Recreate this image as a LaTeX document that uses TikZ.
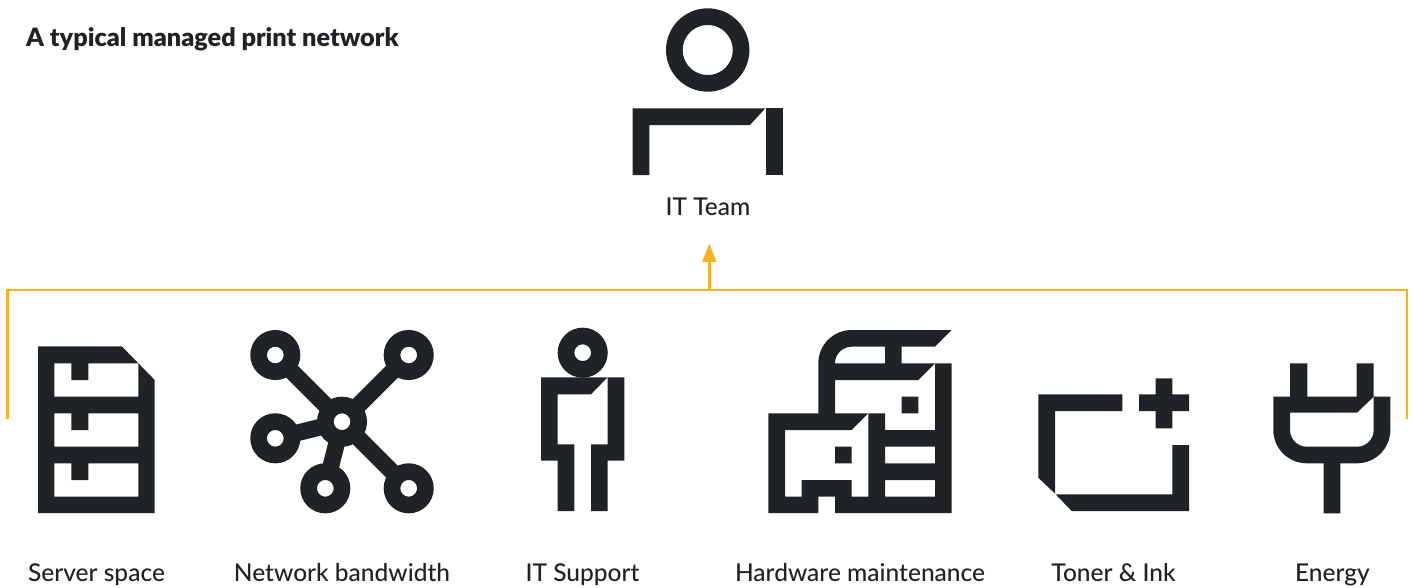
\documentclass[tikz,border=0pt]{standalone}
\usepackage{fontspec}
\setmainfont{Lato}
\newfontfamily\headfont{Lato Black}
\newfontfamily\labelfont{Lato Medium}
\usetikzlibrary{arrows.meta}
\definecolor{ink}{HTML}{1F2326}
\definecolor{amber}{HTML}{F6B221}
\tikzset{
  glyph/.style={fill=ink,even odd rule},
  ring/.style={circle,draw=ink,fill=white,line width=16.67pt,minimum size=33.34pt,inner sep=0pt,outer sep=0pt},
  bigring/.style={ring,minimum size=66.7pt},
  spoke/.style={draw=ink,line width=16.67pt},
  label/.style={text=ink,font=\labelfont\fontsize{24.5}{28}\selectfont,anchor=base,inner sep=0pt},
  heading/.style={text=ink,font=\headfont\fontsize{25.25}{28}\selectfont,anchor=base west,inner sep=0pt},
  wire/.style={draw=amber,line width=2.9pt},
  wirearrow/.style={wire,-{Triangle[length=18.5pt,width=13.5pt]}}
}
\begin{document}
\begin{tikzpicture}[x=1pt,y=-1pt]
\useasboundingbox (0,0) rectangle (1413,587);
% Heading and labels
\node[heading] (title) at (26,46) {A typical managed print network};
\node[label] (lteam) at (708,215) {IT Team};
\node[label] (lserver) at (96.5,581) {Server space};
\node[label] (lnet) at (342,581) {Network bandwidth};
\node[label] (lsupport) at (582.5,581) {IT Support};
\node[label] (lhw) at (860,581) {Hardware maintenance};
\node[label] (ltoner) at (1113.5,581) {Toner \& Ink};
\node[label] (lenergy) at (1332.5,581) {Energy};
% Connector
\coordinate (bl) at (7.5,419);
\coordinate (tl) at (7.5,290);
\coordinate (tr) at (1407,290);
\coordinate (br) at (1407,419);
\coordinate (mid) at (709.3,290);
\coordinate (tip) at (709.3,243.3);
\draw[wire] (bl) -- (tl) -- (tr) -- (br);
\draw[wirearrow] (mid) -- (tip);
% IT Team icon
\node[bigring] (teamhead) at (707.7,50) {};
\fill[glyph] (632.7,108.3) -- (765.3,108.3) -- (750,125) -- (649.3,125) -- (649.3,175) -- (632.7,175) -- cycle;
\fill[glyph] (766,108.3) -- (783,108.3) -- (783,175) -- (766,175) -- cycle;
% Server icon
\fill[glyph] (38,346.3) -- (121.7,346.3) -- (154.7,380) -- (154.7,513) -- (38,513) -- cycle
  (54.3,363.3) -- (71.3,363.3) -- (71.3,380) -- (88.3,380) -- (88.3,363.3) -- (138.3,363.3) -- (138.3,396.7) -- (54.3,396.7) -- cycle
  (54.3,413.3) -- (71.3,413.3) -- (71.3,430) -- (88.3,430) -- (88.3,413.3) -- (138.3,413.3) -- (138.3,446.7) -- (54.3,446.7) -- cycle
  (54.3,463.3) -- (71.3,463.3) -- (71.3,480) -- (88.3,480) -- (88.3,463.3) -- (138.3,463.3) -- (138.3,496.7) -- (54.3,496.7) -- cycle;
% Network icon
\node[ring] (hub) at (342,421.7) {};
\node[ring] (n1) at (275.3,355) {};
\node[ring] (n2) at (408.7,355) {};
\node[ring] (n3) at (275.3,438.3) {};
\node[ring] (n4) at (325.3,488.3) {};
\node[ring] (n5) at (408.7,488.3) {};
\draw[spoke] (hub) -- (n1);
\draw[spoke] (hub) -- (n2);
\draw[spoke] (hub) -- (n3);
\draw[spoke] (hub) -- (n4);
\draw[spoke] (hub) -- (n5);
% IT Support icon
\node[ring] (supporthead) at (582.7,352.7) {};
\fill[glyph] (541,377.3) -- (607.5,377.3) -- (591,394.3) -- (557.7,394.3) -- (557.7,444.3) -- (574.3,444.3) -- (574.3,511) -- (557.7,511) -- (557.7,460.7) -- (541,460.7) -- cycle;
\fill[glyph] (607.5,377.3) -- (624.3,377.3) -- (624.3,460.7) -- (607.5,460.7) -- (607.5,511) -- (591,511) -- (591,444.3) -- (607.5,444.3) -- cycle;
% Hardware icon
\fill[glyph] (768.3,413.3) -- (818.3,413.3) -- (818.3,363.3) .. controls (818.3,344.9) and (833.2,330) .. (851.7,330) -- (951.7,330) -- (935,346.7) -- (901.7,346.7) -- (901.7,363.3) -- (951.7,363.3) -- (951.7,513) -- (835,513) -- (835,496.7) -- (818.3,496.7) -- (818.3,513) -- (768.3,513) -- cycle
  (835,363.3) .. controls (835,354.1) and (842.5,346.7) .. (851.7,346.7) -- (885,346.7) -- (885,363.3) -- cycle
  (835,380) -- (918.3,380) -- (935,363.3) -- (935,430) -- (885,430) -- (885,413.3) -- (835,413.3) -- cycle
  (901.7,396.7) -- (918.3,396.7) -- (918.3,413.3) -- (901.7,413.3) -- cycle
  (885,446.7) -- (935,446.7) -- (935,463.3) -- (885,463.3) -- cycle
  (885,480) -- (935,480) -- (935,496.7) -- (885,496.7) -- cycle
  (785,430) -- (851.7,430) -- (868.3,413.3) -- (868.3,496.7) -- (851.7,496.7) -- (851.7,480) -- (801.7,480) -- (801.7,496.7) -- (785,496.7) -- cycle
  (835,446.7) -- (851.7,446.7) -- (851.7,463.3) -- (835,463.3) -- cycle;
% Toner icon
\fill[glyph] (1038.3,394.3) -- (1122.3,394.3) -- (1122.3,411) -- (1055,411) -- (1055,493.6) -- (1038.3,477.7) -- cycle;
\fill[glyph] (1055.6,494.3) -- (1172.3,494.3) -- (1172.3,445) -- (1189,445) -- (1189,511) -- (1071.7,511) -- cycle;
\fill[glyph] (1155.5,378.3) -- (1172.3,378.3) -- (1172.3,394.3) -- (1189,394.3) -- (1189,411) -- (1172.3,411) -- (1172.3,428.3) -- (1155.5,428.3) -- (1155.5,411) -- (1139,411) -- (1139,394.3) -- (1155.5,394.3) -- cycle;
% Energy icon
\fill[glyph] (1273.3,396.7) -- (1290,396.7) -- (1290,363.3) -- (1307.3,363.3) -- (1307.3,396.7) -- (1356.7,396.7) -- (1356.7,363.3) -- (1373.7,363.3) -- (1373.7,396.7) -- (1357,412.7) -- (1290,412.7) -- (1290,430) .. controls (1290,439.2) and (1297.5,446.7) .. (1306.7,446.7) -- (1357,446.7) .. controls (1366.2,446.7) and (1373.7,439.2) .. (1373.7,430) -- (1373.7,396.7) -- (1390.3,396.7) -- (1390.3,430) .. controls (1390.3,448.4) and (1375.4,463.3) .. (1357,463.3) -- (1340.3,463.3) -- (1340.3,513.3) -- (1323.7,513.3) -- (1323.7,463.3) -- (1306.7,463.3) .. controls (1288.3,463.3) and (1273.3,448.4) .. (1273.3,430) -- cycle;
\end{tikzpicture}
\end{document}
